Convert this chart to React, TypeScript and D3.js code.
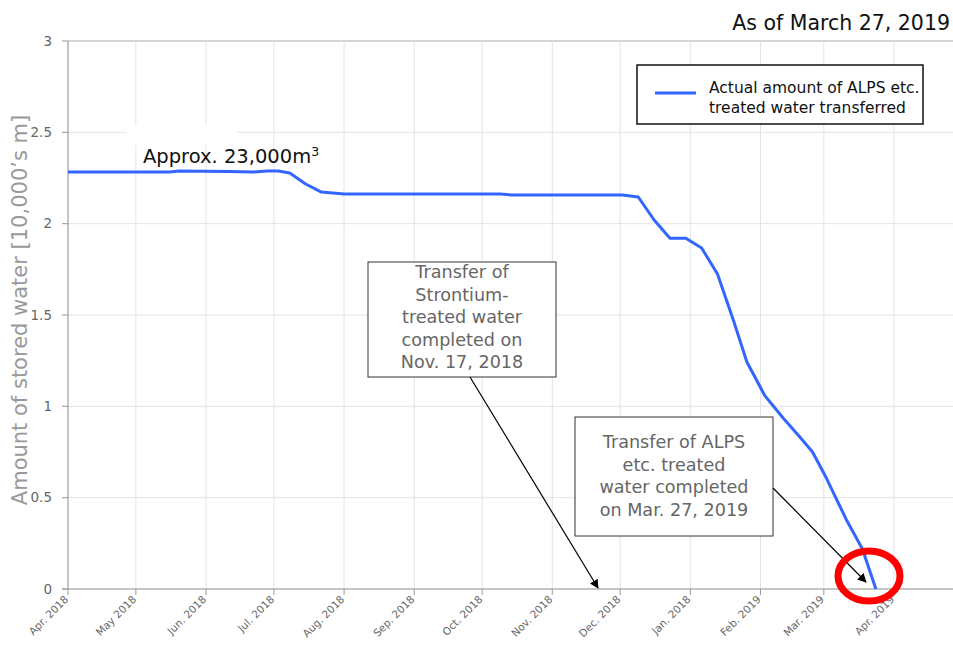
import React from "react";
import * as d3 from "d3";

const dates: string[] = [
  "2018-04-01", "2018-05-16", "2018-05-20", "2018-06-11", "2018-06-22", "2018-06-28",
  "2018-07-03", "2018-07-08", "2018-07-15", "2018-07-22", "2018-08-01", "2018-10-09",
  "2018-10-14", "2018-12-02", "2018-12-09", "2018-12-16", "2018-12-23", "2018-12-30",
  "2019-01-06", "2019-01-13", "2019-01-20", "2019-01-26", "2019-02-03", "2019-02-11",
  "2019-02-18", "2019-02-24", "2019-03-02", "2019-03-11", "2019-03-18", "2019-03-24",
];
const values: number[] = [
  2.283, 2.283, 2.288, 2.285, 2.283, 2.288,
  2.288, 2.277, 2.217, 2.173, 2.162, 2.162,
  2.157, 2.157, 2.146, 2.02, 1.92, 1.92,
  1.867, 1.724, 1.473, 1.243, 1.057, 0.936,
  0.838, 0.75, 0.61, 0.378, 0.22, 0.0,
];
const xTickLabels: string[] = [
  "Apr. 2018", "May 2018", "Jun. 2018", "Jul. 2018", "Aug. 2018", "Sep. 2018", "Oct. 2018",
  "Nov. 2018", "Dec. 2018", "Jan. 2018", "Feb. 2019", "Mar. 2019", "Apr. 2019",
];
const yTicks: number[] = [0, 0.5, 1, 1.5, 2, 2.5, 3];
const yTickLabels: string[] = ["0", "0.5", "1", "1.5", "2", "2.5", "3"];
const legendLines: string[] = ["Actual amount of ALPS etc.", "treated water transferred"];
const note1Lines: string[] = ["Transfer of", "Strontium-", "treated water", "completed on", "Nov. 17, 2018"];
const note2Lines: string[] = ["Transfer of ALPS", "etc. treated", "water completed", "on Mar. 27, 2019"];
const asOfText = "As of March 27, 2019";
const approxText = "Approx. 23,000m";
const yTitle = "Amount of stored water [10,000\u2019s m]";

const FONT = "'DejaVu Sans', Verdana, sans-serif";

export default function App() {
  const W = 953, H = 648;
  const parse = d3.timeParse("%Y-%m-%d");
  const data = dates.map((d, i) => ({ date: parse(d) as Date, v: values[i] }));
  const x = d3.scaleTime()
    .domain([new Date(2018, 3, 1), new Date(2019, 4, 1)])
    .range([68, 68 + 395 * 2.263]);
  const y = d3.scaleLinear().domain([0, 3]).range([589, 41]);
  const monthTicks = d3.timeMonth.range(new Date(2018, 3, 1), new Date(2019, 3, 2));
  const line = d3.line<{ date: Date; v: number }>().x(d => x(d.date)).y(d => y(d.v));
  const left = 68, right = W, top = 41, bottom = 589;

  return (
    <svg width={W} height={H} style={{ position: "absolute", left: 0, top: 0, background: "#fff" }} fontFamily={FONT}>
      <defs>
        <marker id="arrow" viewBox="0 0 10 10" refX="9" refY="5" markerWidth="9" markerHeight="9" orient="auto-start-reverse" markerUnits="userSpaceOnUse">
          <path d="M0,0 L10,5 L0,10 z" fill="#000" />
        </marker>
      </defs>
      <rect x={0} y={0} width={W} height={H} fill="#fff" />
      {yTicks.map((t, i) => (
        <line key={"hg" + i} x1={left} x2={right} y1={y(t)} y2={y(t)} stroke={t === 3 ? "#aaa" : "#e3e3e3"} strokeWidth={1} />
      ))}
      {monthTicks.map((m, i) => (
        <line key={"vg" + i} x1={x(m)} x2={x(m)} y1={top} y2={bottom} stroke="#e3e3e3" strokeWidth={1} />
      ))}
      <line x1={left} x2={left} y1={top} y2={bottom} stroke="#999" strokeWidth={1} />
      <line x1={left - 6} x2={right} y1={bottom} y2={bottom} stroke="#999" strokeWidth={1} />
      {yTicks.map((t, i) => (
        <g key={"yt" + i}>
          <line x1={left - 6} x2={left} y1={y(t)} y2={y(t)} stroke="#999" />
          <text x={52} y={y(t)} dy="0.35em" textAnchor="end" fontSize={13.5} fill="#666">{yTickLabels[i]}</text>
        </g>
      ))}
      {monthTicks.map((m, i) => (
        <g key={"xt" + i}>
          <line x1={x(m)} x2={x(m)} y1={bottom} y2={bottom + 6} stroke="#999" />
          <text transform={`translate(${x(m) + 1},${bottom + 11}) rotate(-45)`} textAnchor="end" fontSize={10.5} fill="#666">{xTickLabels[i]}</text>
        </g>
      ))}
      <text transform={`translate(27,310) rotate(-90)`} textAnchor="middle" fontSize={21} fill="#999">{yTitle}</text>
      <text x={950} y={30} textAnchor="end" fontSize={20.5} fill="#111">{asOfText}</text>
      <rect x={127} y={125} width={110} height={20} fill="#fff" />
      <text x={143} y={163} fontSize={19.5} fill="#111">{approxText}<tspan dy={-7} fontSize={12.5}>3</tspan></text>
      <path d={line(data) || ""} fill="none" stroke="#3366ff" strokeWidth={3} strokeLinejoin="round" />
      <rect x={637} y={65} width={286} height={59} fill="#fff" stroke="#111" strokeWidth={1.5} />
      <line x1={655} x2={696} y1={93} y2={93} stroke="#3366ff" strokeWidth={3} />
      {legendLines.map((t, i) => (
        <text key={"lg" + i} x={709} y={93 + i * 20} fontSize={15.5} fill="#111">{t}</text>
      ))}
      <rect x={368} y={262} width={188} height={115} fill="#fff" stroke="#333" strokeWidth={1} />
      {note1Lines.map((t, i) => (
        <text key={"n1" + i} x={462} y={278 + i * 22.5} textAnchor="middle" fontSize={17.6} fill="#666">{t}</text>
      ))}
      <line x1={470} y1={377} x2={598} y2={588} stroke="#000" strokeWidth={1.2} markerEnd="url(#arrow)" />
      <rect x={575} y={417} width={198} height={119} fill="#fff" stroke="#333" strokeWidth={1} />
      {note2Lines.map((t, i) => (
        <text key={"n2" + i} x={674} y={448 + i * 22.5} textAnchor="middle" fontSize={17.6} fill="#666">{t}</text>
      ))}
      <line x1={773} y1={488} x2={866} y2={582} stroke="#000" strokeWidth={1.2} markerEnd="url(#arrow)" />
      <ellipse cx={869} cy={576} rx={31} ry={25} fill="none" stroke="#ff0000" strokeWidth={7} />
    </svg>
  );
}
